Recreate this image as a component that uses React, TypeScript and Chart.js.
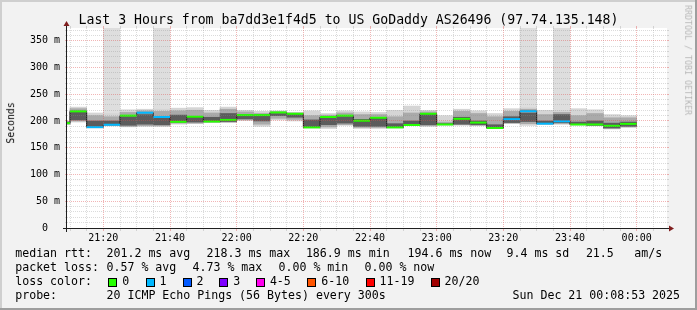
import React, { useEffect, useRef } from 'react';
import { Chart, registerables } from 'chart.js';

Chart.register(...registerables);

const FONT = '"DejaVu Sans Mono", monospace';

// ---------- data ----------
const graphStart = '21:09:06';
const graphEnd = '00:09:06';
const Y_MAX = 373.8;

// start time of each 5-minute slot
const slotStarts = [
  '21:05', '21:10', '21:15', '21:20', '21:25', '21:30', '21:35', '21:40', '21:45', '21:50', '21:55',
  '22:00', '22:05', '22:10', '22:15', '22:20', '22:25', '22:30', '22:35', '22:40', '22:45', '22:50', '22:55',
  '23:00', '23:05', '23:10', '23:15', '23:20', '23:25', '23:30', '23:35', '23:40', '23:45', '23:50', '23:55',
];
// smoke envelope (ms)
const maxV = [200, 226, 215, 214, 221, 222, 222, 224, 225, 220, 226, 220, 218, 219, 216, 219, 214, 219, 217, 216, 220, 228, 220, 210, 222, 219, 214, 223, 225, 220, 220, 223, 221, 212, 210];
const hiV = [199, 223, 210, 208, 216, 219, 218, 219, 220, 215, 222, 217, 214, 217, 215, 210, 211, 215, 212, 212, 208, 215, 217, 198, 218, 214, 208, 218, 222, 212, 216, 210, 214, 206, 206];
const darkHiV = [198, 217, 200, 200, 208, 212, 206, 211, 207, 207, 214, 210, 209, 214, 212, 202, 206, 208, 203, 205, 195, 200, 212, 195, 207, 200, 193, 208, 215, 200, 212, 198, 200, 196, 198];
const medianV = [196, 218, 188.5, 193, 210, 215.5, 207.5, 198.5, 208, 199, 202, 211, 211, 216, 213.5, 188, 207.5, 210, 200.5, 206, 188, 192.5, 213.5, 193.5, 204, 197, 186.9, 203.5, 218.3, 195, 199.5, 193.5, 193.5, 191, 194.6];
const darkLoV = [195, 202, 190, 195, 192, 194, 193, 199, 198, 200, 199, 204, 200, 210, 207, 189, 193, 196, 190, 190, 189, 193, 193, 194, 194, 193, 187, 197, 199, 196, 197, 194, 192, 187, 190];
const loV = [194, 200, 188, 192, 190, 191, 191, 196, 196, 198, 198, 202, 194, 205, 203, 188, 189, 193, 188, 188, 188, 192.5, 191, 193, 193, 192, 186.5, 196, 195, 195, 195, 193, 191.5, 186, 189];
const minV = [193, 198, 187, 191, 189, 190, 190, 194, 195, 197, 197, 201, 190, 202, 200, 187, 186, 192, 186, 186, 187, 192, 190, 192, 192, 191, 186, 195, 192, 194, 194, 192, 191, 185, 188];
// lost pings (of 20) per slot
const lossCount = [0, 0, 1, 1, 0, 1, 1, 0, 0, 0, 0, 0, 0, 0, 0, 0, 0, 0, 0, 0, 0, 0, 0, 0, 0, 0, 0, 1, 1, 1, 1, 0, 0, 0, 0];
// slots drawn with the full-height loss column
const lossColumn = [0, 0, 0, 1, 0, 0, 1, 0, 0, 0, 0, 0, 0, 0, 0, 0, 0, 0, 0, 0, 0, 0, 0, 0, 0, 0, 0, 0, 1, 0, 1, 0, 0, 0, 0];

const xTickLabels = ['21:20', '21:40', '22:00', '22:20', '22:40', '23:00', '23:20', '23:40', '00:00'];
const yTickValues = [0, 50, 100, 150, 200, 250, 300, 350];
const yTickLabels = ['0  ', '50 m', '100 m', '150 m', '200 m', '250 m', '300 m', '350 m'];

const lossLabels = ['0', '1', '2', '3', '4-5', '6-10', '11-19', '20/20'];
const lossColors = ['#26ff00', '#00b8ff', '#0059ff', '#7e00ff', '#ff00ee', '#ff5500', '#ff0000', '#a10000'];

const titleText = 'Last 3 Hours from ba7dd3e1f4d5 to US GoDaddy AS26496 (97.74.135.148)';
const rttStats = ['median rtt:', '201.2 ms avg', '218.3 ms max', '186.9 ms min', '194.6 ms now', '9.4 ms sd', '21.5', 'am/s'];
const lossStats = ['packet loss:', '0.57 % avg', '4.73 % max', '0.00 % min', '0.00 % now'];
const probeInfo = ['probe:', '20 ICMP Echo Pings (56 Bytes) every 300s', 'Sun Dec 21 00:08:53 2025'];

// ---------- helpers ----------
const toMin = (s: string) => {
  const p = s.split(':').map(Number);
  return ((p[0] - 21 + 24) % 24) * 60 + p[1] + (p[2] || 0) / 60;
};
const lossBucket = (n: number) => (n <= 3 ? n : n <= 5 ? 4 : n <= 10 ? 5 : n <= 19 ? 6 : 7);

const xMin = toMin(graphStart);
const xMax = toMin(graphEnd);
const starts = slotStarts.map(toMin);
const centers = starts.map((s) => s + 2.5);

const band = (lo: number[], hi: number[]) => centers.map((x, i) => ({ x, y: [lo[i], hi[i]] }));
const barCommon = { type: 'bar', grouped: false, barPercentage: 1, categoryPercentage: 1, borderWidth: 0, clip: 0 };

const medianSegs: any[] = [];
starts.forEach((s, i) => {
  medianSegs.push({ x: s, y: medianV[i] }, { x: s + 5, y: medianV[i] }, { x: s + 5, y: null });
});

const rrdPlugin = {
  id: 'rrd',
  beforeDraw(chart: any) {
    const { ctx, width, height, chartArea: a } = chart;
    ctx.save();
    ctx.fillStyle = '#f2f2f2';
    ctx.fillRect(0, 0, width, height);
    ctx.fillStyle = '#cfcfcf';
    ctx.fillRect(0, 0, width, 2);
    ctx.fillRect(0, 0, 2, height);
    ctx.fillStyle = '#9e9e9e';
    ctx.fillRect(0, height - 2, width, 2);
    ctx.fillRect(width - 2, 0, 2, height);
    ctx.fillStyle = '#ffffff';
    ctx.fillRect(a.left, a.top, a.right - a.left, a.bottom - a.top);
    ctx.restore();
  },
  afterDatasetsDraw(chart: any) {
    const { ctx, chartArea: a, scales } = chart;
    const xs = scales.x;
    const ys = scales.y;
    const minor = 'rgba(143,143,143,0.32)';
    const major = 'rgba(222,79,79,0.42)';
    ctx.save();
    ctx.lineWidth = 1;
    const hline = (y: number, col: string) => {
      ctx.strokeStyle = col;
      ctx.setLineDash([]);
      ctx.beginPath();
      ctx.moveTo(a.left - 2, y); ctx.lineTo(a.left, y);
      ctx.moveTo(a.right, y); ctx.lineTo(a.right + 2, y);
      ctx.stroke();
      ctx.setLineDash([1, 1]);
      ctx.beginPath();
      ctx.moveTo(a.left, y); ctx.lineTo(a.right, y);
      ctx.stroke();
    };
    const vline = (x: number, col: string) => {
      ctx.strokeStyle = col;
      ctx.setLineDash([]);
      ctx.beginPath();
      ctx.moveTo(x, a.top - 2); ctx.lineTo(x, a.top);
      ctx.moveTo(x, a.bottom); ctx.lineTo(x, a.bottom + 3);
      ctx.stroke();
      ctx.setLineDash([1, 1]);
      ctx.beginPath();
      ctx.moveTo(x, a.top); ctx.lineTo(x, a.bottom);
      ctx.stroke();
    };
    for (let v = 10; v < Y_MAX; v += 10) {
      if (v % 50 === 0) continue;
      hline(Math.floor(ys.getPixelForValue(v)) + 0.5, minor);
    }
    for (let m = 10; m < xMax; m += 5) {
      if (m % 20 === 0) continue;
      vline(Math.floor(xs.getPixelForValue(m)) + 0.5, minor);
    }
    for (let v = 50; v < Y_MAX; v += 50) hline(Math.floor(ys.getPixelForValue(v)) + 0.5, major);
    for (let m = 20; m < xMax; m += 20) vline(Math.floor(xs.getPixelForValue(m)) + 0.5, major);

    // axes
    ctx.setLineDash([]);
    ctx.strokeStyle = '#1f1f1f';
    const ay = a.bottom + 0.5;
    const ax = a.left - 0.5;
    ctx.beginPath();
    ctx.moveTo(a.left - 4, ay); ctx.lineTo(a.right + 4, ay);
    ctx.moveTo(ax, a.bottom + 4); ctx.lineTo(ax, a.top - 4);
    ctx.stroke();
    ctx.fillStyle = '#801f1f';
    ctx.beginPath();
    ctx.moveTo(a.right + 2, ay - 3); ctx.lineTo(a.right + 2, ay + 3); ctx.lineTo(a.right + 7, ay);
    ctx.closePath(); ctx.fill();
    ctx.beginPath();
    ctx.moveTo(ax - 3, a.top - 2); ctx.lineTo(ax + 3, a.top - 2); ctx.lineTo(ax, a.top - 7);
    ctx.closePath(); ctx.fill();
    ctx.restore();
  },
};

const tickFont = { family: 'DejaVu Sans Mono', size: 10 };

const config: any = {
  type: 'bar',
  data: {
    datasets: [
      {
        ...barCommon,
        label: 'loss column',
        data: centers.map((x, i) => ({ x, y: [minV[i], Y_MAX] })).filter((_, i) => lossColumn[i]),
        backgroundColor: '#dedede',
        order: 6,
      },
      { ...barCommon, label: 'smoke outer', data: band(minV, maxV), backgroundColor: '#d5d5d5', order: 5 },
      { ...barCommon, label: 'smoke mid', data: band(loV, hiV), backgroundColor: '#aaaaaa', order: 4 },
      { ...barCommon, label: 'smoke core', data: band(darkLoV, darkHiV), backgroundColor: '#5c5c5c', order: 3 },
      {
        type: 'line',
        label: 'median step',
        data: centers.map((x, i) => ({ x, y: medianV[i] })),
        stepped: 'middle',
        borderColor: '#1e1e1e',
        borderWidth: 1,
        pointRadius: 0,
        clip: 0,
        order: 2,
      },
      {
        type: 'line',
        label: 'median',
        data: medianSegs,
        borderWidth: 2,
        pointRadius: 0,
        spanGaps: false,
        clip: 0,
        order: 1,
        borderColor: lossColors[0],
        segment: {
          borderColor: (c: any) => lossColors[lossBucket(lossCount[Math.floor(c.p0DataIndex / 3)])],
        },
      },
    ],
  },
  options: {
    animation: false,
    responsive: false,
    devicePixelRatio: 1,
    events: [],
    layout: { padding: { left: 0, right: 30, top: 28, bottom: 0 } },
    plugins: { legend: { display: false }, tooltip: { enabled: false }, title: { display: false } },
    scales: {
      x: {
        type: 'linear',
        min: xMin,
        max: xMax,
        offset: false,
        grid: { display: false, drawTicks: false },
        border: { display: false },
        afterBuildTicks: (s: any) => {
          s.ticks = xTickLabels.map((l) => ({ value: toMin(l) === 0 ? 180 : toMin(l) }));
        },
        afterFit: (s: any) => {
          s.height = 82;
        },
        ticks: {
          autoSkip: false,
          maxRotation: 0,
          padding: 4,
          color: '#000',
          font: tickFont,
          callback: (_v: any, i: number) => xTickLabels[i],
        },
      },
      y: {
        type: 'linear',
        min: 0,
        max: Y_MAX,
        grid: { display: false, drawTicks: false },
        border: { display: false },
        afterBuildTicks: (s: any) => {
          s.ticks = yTickValues.map((v) => ({ value: v }));
        },
        afterFit: (s: any) => {
          s.width = 67;
        },
        ticks: {
          padding: 7,
          color: '#000',
          font: tickFont,
          callback: (_v: any, i: number) => yTickLabels[i],
        },
      },
    },
  },
  plugins: [rrdPlugin],
};

const T = ({ x, base, size, children, color = '#000' }: any) => (
  <div
    style={{
      position: 'absolute',
      left: x,
      top: base - size * 0.846,
      fontFamily: FONT,
      fontSize: size,
      lineHeight: size + 'px',
      whiteSpace: 'pre',
      color,
    }}
  >
    {children}
  </div>
);

export default function App() {
  const ref = useRef<HTMLCanvasElement>(null);
  useEffect(() => {
    if (!ref.current) return;
    const chart = new Chart(ref.current, config);
    return () => chart.destroy();
  }, []);

  const LS = 11.6;
  const TS = 13.2;
  const rttX = [16, 107.3, 207.3, 306.7, 408.3, 507.3, 586.7, 635];
  const lossX = [16, 107.3, 193.3, 279.3, 365.3];
  const probeX = [16, 107.3, 513.3];
  const swX = [108.3, 145.7, 182.7, 219.3, 256, 307.3, 365.7, 430.7];

  return (
    <div style={{ position: 'fixed', left: 0, top: 0, width: 697, height: 310, overflow: 'hidden', background: '#f2f2f2' }}>
      <canvas ref={ref} width={697} height={310} style={{ position: 'absolute', left: 0, top: 0, width: 697, height: 310 }} />
      <div
        style={{
          position: 'absolute', left: 0, width: 697, top: 24 - TS * 0.846, textAlign: 'center',
          fontFamily: FONT, fontSize: TS, lineHeight: TS + 'px', whiteSpace: 'pre', color: '#000',
        }}
      >
        {titleText}
      </div>
      <div
        style={{
          position: 'absolute', left: 10.6 - 40, top: 123.3 - 4.9, width: 80, height: 9.8, textAlign: 'center',
          fontFamily: FONT, fontSize: 9.8, lineHeight: '9.8px', transform: 'rotate(-90deg)', whiteSpace: 'pre',
        }}
      >
        Seconds
      </div>
      <div
        style={{
          position: 'absolute', left: 687.9 - 60, top: 60 - 4.15, width: 120, height: 8.3, textAlign: 'center',
          fontFamily: FONT, fontSize: 8.3, lineHeight: '8.3px', transform: 'rotate(90deg)', whiteSpace: 'pre',
          color: 'rgba(0,0,0,0.26)',
        }}
      >
        RRDTOOL / TOBI OETIKER
      </div>
      {rttStats.map((t, i) => (
        <T key={'r' + i} x={rttX[i] - 0.8} base={258.3} size={LS}>{t}</T>
      ))}
      {lossStats.map((t, i) => (
        <T key={'l' + i} x={lossX[i] - 0.8} base={272.3} size={LS}>{t}</T>
      ))}
      <T x={16 - 0.8} base={286.3} size={LS}>loss color:</T>
      {lossLabels.map((t, i) => (
        <React.Fragment key={'c' + i}>
          <div
            style={{
              position: 'absolute', left: swX[i], top: 277.5, width: 9, height: 9, boxSizing: 'border-box',
              border: '1px solid #000', background: lossColors[i],
            }}
          />
          <T x={swX[i] + 14.7 - 0.8} base={286.3} size={LS}>{t}</T>
        </React.Fragment>
      ))}
      {probeInfo.map((t, i) => (
        <T key={'p' + i} x={probeX[i] - 0.8} base={300.3} size={LS}>{t}</T>
      ))}
    </div>
  );
}
